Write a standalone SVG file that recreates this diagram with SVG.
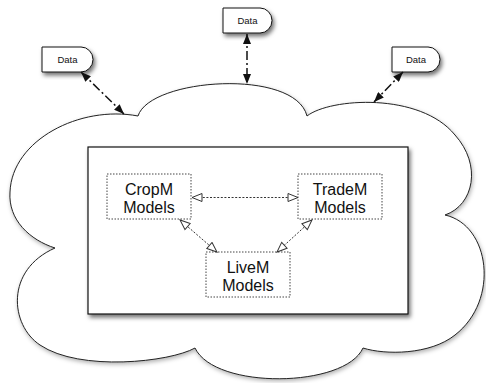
<svg xmlns="http://www.w3.org/2000/svg" width="486" height="383" viewBox="0 0 486 383">
  <style>
    .cloud { fill: #ffffff; stroke: #222222; stroke-width: 1; filter: url(#softShadow); }
    .frame { fill: #ffffff; stroke: #111111; stroke-width: 1.2; filter: url(#boxShadow); }
    .data { fill: #ffffff; stroke: #111111; stroke-width: 1; filter: url(#boxShadow); }
    .data-label { font-family: "Liberation Sans", Arial, sans-serif; font-size: 9.5px; fill: #111111; text-anchor: middle; }
    .model { fill: #ffffff; stroke: #444444; stroke-width: 1; stroke-dasharray: 1.5 1.5; }
    .model-label { font-family: "Liberation Sans", Arial, sans-serif; font-size: 16px; fill: #111111; text-anchor: middle; }
    .flow { fill: none; stroke: #111111; stroke-width: 1.5; stroke-dasharray: 9 3 2 3; }
    .link { fill: none; stroke: #333333; stroke-width: 1; stroke-dasharray: 2 1.6; }
  </style>
  <defs>
    <filter id="softShadow" x="-10%" y="-10%" width="120%" height="125%">
      <feDropShadow dx="1" dy="2" stdDeviation="2" flood-color="#000000" flood-opacity="0.3"/>
    </filter>
    <filter id="boxShadow" x="-10%" y="-10%" width="125%" height="140%">
      <feDropShadow dx="2" dy="3" stdDeviation="2" flood-color="#000000" flood-opacity="0.55"/>
    </filter>
    <marker id="solidHead" viewBox="0 0 10 8" refX="10" refY="4" markerWidth="10" markerHeight="8" markerUnits="userSpaceOnUse" orient="auto-start-reverse">
      <path d="M0,0 L10,4 L0,8 Z" fill="#111111"/>
    </marker>
    <marker id="openHead" viewBox="0 0 12 10" refX="11" refY="5" markerWidth="12" markerHeight="10" markerUnits="userSpaceOnUse" orient="auto-start-reverse">
      <path d="M1,1 L11,5 L1,9 Z" fill="#ffffff" stroke="#333333" stroke-width="1"/>
    </marker>
  </defs>

  <!-- cloud backdrop -->
  <g id="cloud">
    <path class="cloud" d="M55,248 C30,240 8,220 10,192 C12,140 80,105 138,116 C150,78 295,68 307,116 C330,98 420,92 455,135 C482,165 474,205 445,215 C490,225 500,300 455,335 C430,355 385,355 363,348 C345,388 215,390 195,348 C170,362 80,372 40,345 C10,325 5,270 55,248 Z"/>
  </g>

  <!-- enclosing model frame -->
  <g id="frame">
    <rect class="frame" x="88" y="147" width="320" height="167"/>
  </g>

  <!-- data sources -->
  <g id="data-left">
    <path class="data" d="M42,47 H81 A12,12.5 0 0 1 81,72 H42 Z"/>
    <text class="data-label" x="67.5" y="62.5">Data</text>
  </g>
  <g id="data-top">
    <path class="data" d="M223,8 H260 A12,12.5 0 0 1 260,33 H223 Z"/>
    <text class="data-label" x="247.5" y="23.5">Data</text>
  </g>
  <g id="data-right">
    <path class="data" d="M392,47 H428 A12,12.5 0 0 1 428,72 H392 Z"/>
    <text class="data-label" x="416" y="62.5">Data</text>
  </g>

  <!-- model boxes -->
  <g id="cropm">
    <rect class="model" x="107" y="174" width="84" height="45"/>
    <text class="model-label" x="149" y="194.5">CropM</text>
    <text class="model-label" x="149" y="212.5">Models</text>
  </g>
  <g id="tradem">
    <rect class="model" x="298" y="174" width="84" height="45"/>
    <text class="model-label" x="340" y="194.5">TradeM</text>
    <text class="model-label" x="340" y="212.5">Models</text>
  </g>
  <g id="livem">
    <rect class="model" x="206" y="252" width="84" height="45"/>
    <text class="model-label" x="248" y="272.5">LiveM</text>
    <text class="model-label" x="248" y="290.5">Models</text>
  </g>

  <!-- connectors -->
  <g id="connectors">
    <line class="flow" x1="81" y1="72" x2="124" y2="114" marker-start="url(#solidHead)" marker-end="url(#solidHead)"/>
    <line class="flow" x1="247" y1="34" x2="247" y2="84" marker-start="url(#solidHead)" marker-end="url(#solidHead)"/>
    <line class="flow" x1="403" y1="72" x2="374" y2="102" marker-start="url(#solidHead)" marker-end="url(#solidHead)"/>
    <line class="link" x1="192" y1="197.5" x2="298" y2="197.5" marker-start="url(#openHead)" marker-end="url(#openHead)"/>
    <line class="link" x1="180" y1="220" x2="217" y2="252" marker-start="url(#openHead)" marker-end="url(#openHead)"/>
    <line class="link" x1="312" y1="220" x2="277" y2="252" marker-start="url(#openHead)" marker-end="url(#openHead)"/>
  </g>
</svg>
